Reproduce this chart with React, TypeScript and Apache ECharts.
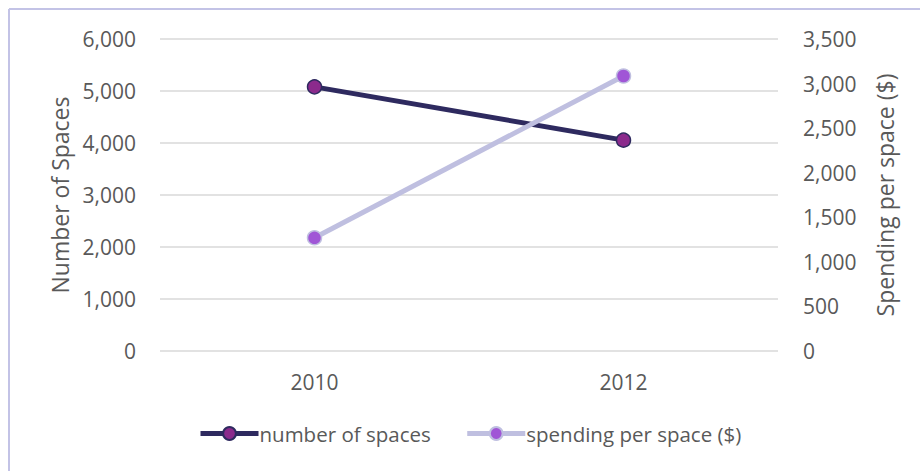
import React, { useEffect, useRef } from "react";
import * as echarts from "echarts";

const categories = ["2010", "2012"];
const numberOfSpaces = [5080, 4055];
const spendingPerSpace = [1270, 3085];
const leftTicks = { min: 0, max: 6000, interval: 1000 };
const rightTicks = { min: 0, max: 3500, interval: 500 };

const FONT = "'Open Sans', sans-serif";
const TEXT = "#595959";

export default function App() {
  const ref = useRef<HTMLDivElement>(null);
  useEffect(() => {
    if (!ref.current) return;
    const chart = echarts.init(ref.current, undefined, { renderer: "svg" });
    const fmt = (v: number) => v.toLocaleString("en-US");
    chart.setOption({
      animation: false,
      backgroundColor: "#ffffff",
      textStyle: { fontFamily: FONT },
      grid: { left: 160, right: 142, top: 39, bottom: 120 },
      graphic: [
        { type: "line", shape: { x1: 9, y1: 9, x2: 9, y2: 471 }, style: { stroke: "#c3c3e6", lineWidth: 2 } },
        { type: "line", shape: { x1: 9, y1: 9, x2: 920, y2: 9 }, style: { stroke: "#c3c3e6", lineWidth: 2 } },
      ],
      legend: {
        bottom: 22,
        left: 193,
        itemWidth: 58,
        itemHeight: 16,
        itemGap: 34,
        lineStyle: { width: 5 },
        textStyle: { fontFamily: FONT, fontSize: 20.5, color: TEXT, padding: [0, 0, 0, -4] },
        data: ["number of spaces", "spending per space ($)"],
      },
      xAxis: {
        type: "category",
        data: categories,
        boundaryGap: true,
        axisLine: { show: false },
        axisTick: { show: false },
        axisLabel: { fontFamily: FONT, fontSize: 21, color: TEXT, margin: 20 },
      },
      yAxis: [
        {
          type: "value",
          ...leftTicks,
          name: "Number of Spaces",
          nameLocation: "middle",
          nameGap: 89,
          nameTextStyle: { fontFamily: FONT, fontSize: 23, color: TEXT },
          axisLine: { show: false },
          axisTick: { show: false },
          axisLabel: { fontFamily: FONT, fontSize: 21, color: TEXT, margin: 24, formatter: fmt },
          splitLine: { lineStyle: { color: "#d9d9d9", width: 1.5 } },
        },
        {
          type: "value",
          ...rightTicks,
          position: "right",
          name: "Spending per space ($)",
          nameLocation: "middle",
          nameGap: 95,
          nameRotate: 90,
          nameTextStyle: { fontFamily: FONT, fontSize: 23, color: TEXT },
          axisLine: { show: false },
          axisTick: { show: false },
          axisLabel: { fontFamily: FONT, fontSize: 21, color: TEXT, margin: 25, formatter: fmt },
          splitLine: { show: false },
        },
      ],
      series: [
        {
          name: "number of spaces",
          type: "line",
          yAxisIndex: 0,
          data: numberOfSpaces,
          symbol: "circle",
          symbolSize: 14,
          lineStyle: { color: "#2e2a5f", width: 5 },
          itemStyle: { color: "#8b2a8c", borderColor: "#2e2a5f", borderWidth: 1.5 },
        },
        {
          name: "spending per space ($)",
          type: "line",
          yAxisIndex: 1,
          data: spendingPerSpace,
          symbol: "circle",
          symbolSize: 14,
          lineStyle: { color: "#bfbfe0", width: 5 },
          itemStyle: { color: "#a056d6", borderColor: "#bfbfe0", borderWidth: 1.5 },
        },
      ],
    });
    return () => chart.dispose();
  }, []);
  return (
    <div
      ref={ref}
      style={{ position: "absolute", left: 0, top: 0, width: 920, height: 471 }}
    />
  );
}
